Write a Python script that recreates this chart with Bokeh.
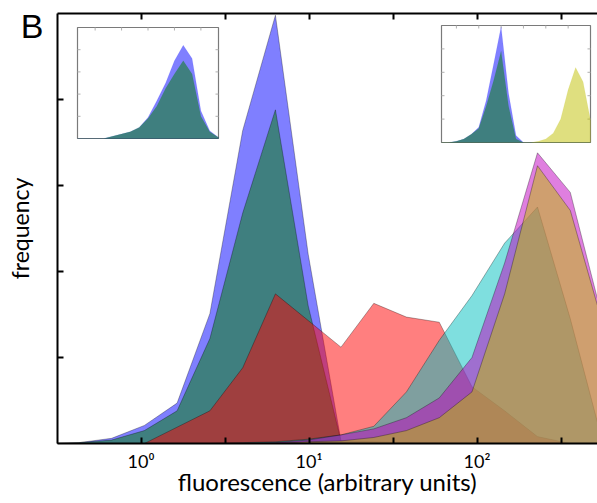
import numpy as np
from bokeh.plotting import figure
from bokeh.models import Range1d, LinearScale, LogAxis, FixedTicker
from bokeh.embed import file_html
from bokeh.resources import INLINE

# ---------------- data: main panel (histogram bin centres, arbitrary units) -------------
fluor = [0.272, 0.427, 0.668, 1.047, 1.64, 2.57, 4.03, 6.31, 9.89, 15.5,
         24.3, 38.0, 59.6, 93.3, 146.0, 229.0, 359.0, 562.0]
blue = [0, 0.01, 0.06, 0.21, 0.47, 1.51, 3.64, 4.98, 2.2, 0.03,
        0.02, 0.01, 0.01, 0, 0, 0, 0, 0]
green = [0, 0.01, 0.04, 0.15, 0.38, 1.22, 2.68, 3.88, 1.6, 0.03,
         0.02, 0.01, 0, 0, 0, 0, 0, 0]
red = [0, 0, 0, 0, 0.19, 0.38, 0.88, 1.74, 1.43, 1.12,
       1.63, 1.47, 1.41, 0.66, 0.38, 0.08, 0, 0]
cyan = [0, 0, 0, 0, 0, 0, 0.01, 0.02, 0.05, 0.1,
        0.2, 0.6, 1.2, 1.72, 2.33, 2.75, 1.45, 0]
magenta = [0, 0, 0, 0, 0, 0, 0, 0.01, 0.04, 0.1,
           0.17, 0.3, 0.53, 1.0, 2.1, 3.38, 2.92, 1.43]
yellow = [0, 0, 0, 0, 0, 0, 0, 0, 0.02, 0.03,
          0.07, 0.15, 0.3, 0.6, 1.74, 3.23, 2.71, 1.38]

# ---------------- data: insets (bin index, normalised frequency) ------------------------
inL_bin = list(range(17))
inL_blue = [0, 0, 0, 0, 0.02, 0.04, 0.06, 0.10, 0.19, 0.34, 0.50, 0.70, 0.84, 0.72, 0.25, 0.07, 0.01]
inL_green = [0, 0, 0, 0, 0.02, 0.04, 0.06, 0.10, 0.18, 0.29, 0.45, 0.58, 0.70, 0.58, 0.20, 0.06, 0.01]

inR_bin = list(range(21))
inR_blue = [0, 0, 0.01, 0.03, 0.07, 0.13, 0.36, 0.67, 0.99, 0.42, 0.06, 0, 0, 0, 0, 0, 0, 0, 0, 0, 0]
inR_green = [0, 0, 0.01, 0.03, 0.07, 0.12, 0.31, 0.53, 0.78, 0.31, 0.03, 0, 0, 0, 0, 0, 0, 0, 0, 0, 0]
inR_yellow = [0, 0, 0, 0, 0, 0, 0, 0, 0, 0, 0, 0, 0, 0.01, 0.03, 0.08, 0.20, 0.45, 0.64, 0.52, 0.19]

decade_ticks = [1, 10, 100]
half_decade_ticks = [10 ** -0.5, 10 ** 0.5, 10 ** 1.5, 10 ** 2.5]
tick_labels = {1: "10\u2070", 10: "10\u00b9", 100: "10\u00b2"}
freq_ticks = [1, 2, 3, 4]
panel_letter = "B"

# ---------------- layout constants (pixels) ----------------------------------------------
W, H = 597, 503
FL, FR, FT, FB = 57, 597, 13, 443
YMAX = 5
INSET_L = (77, 218, 27, 138)   # left, right, top, bottom
INSET_R = (441, 590, 25, 142)
LETTER_CENTER_PX = 26          # vertical centre of the panel letter, from the top

COL = {"b": "#0000ff", "g": "#008000", "r": "#ff0000",
       "c": "#00bfbf", "m": "#bf00bf", "y": "#bfbf00"}
FONT = "Lato"

p = figure(width=W, height=H, x_axis_type="log",
           x_range=Range1d(10 ** -0.497, 10 ** 2.717), y_range=Range1d(0, YMAX),
           output_backend="svg", toolbar_location=None,
           min_border_left=FL, min_border_right=0, min_border_top=FT,
           min_border_bottom=H - FB)
p.outline_line_color = None
p.xgrid.visible = False
p.ygrid.visible = False
p.background_fill_color = "white"
p.border_fill_color = "white"


def closed(xs, ys):
    return [xs[0]] + list(xs) + [xs[-1]], [0] + list(ys) + [0]


for ys, c in [(blue, "b"), (green, "g"), (red, "r"), (cyan, "c"), (magenta, "m"), (yellow, "y")]:
    px, py = closed(fluor, ys)
    p.patch(px, py, fill_color=COL[c], fill_alpha=0.5,
            line_color="black", line_alpha=0.3, line_width=1)


# ---------------- insets through extra ranges --------------------------------------------
def add_inset(name, box, nbins):
    l, r, t, b = box
    sx = (r - l) / (nbins - 1)
    sy = (b - t)
    x0 = -(l - FL) / sx
    y0 = -(FB - b) / sy
    p.extra_x_ranges[name] = Range1d(x0, x0 + (FR - FL) / sx)
    p.extra_y_ranges[name] = Range1d(y0, y0 + (FB - FT) / sy)
    p.extra_x_scales[name] = LinearScale()
    p.extra_y_scales[name] = LinearScale()
    p.quad(left=[0], right=[nbins - 1], bottom=[0], top=[1],
           fill_color="white", line_color="#7a7a7a", line_width=1.2,
           x_range_name=name, y_range_name=name)
    # faint tick marks on the inset frame
    tx = np.arange(2, nbins - 1, 3)
    tl = 3 / sy
    p.segment(x0=tx, y0=np.full(len(tx), 1.0), x1=tx, y1=np.full(len(tx), 1.0 - tl),
              line_color="#b0b0b0", line_width=1, x_range_name=name, y_range_name=name)
    ty = np.arange(0.2, 1.0, 0.2)
    tlx = 3 / sx
    p.segment(x0=np.zeros(len(ty)), y0=ty, x1=np.full(len(ty), tlx), y1=ty,
              line_color="#b0b0b0", line_width=1, x_range_name=name, y_range_name=name)
    p.segment(x0=np.full(len(ty), nbins - 1), y0=ty, x1=np.full(len(ty), nbins - 1 - tlx), y1=ty,
              line_color="#b0b0b0", line_width=1, x_range_name=name, y_range_name=name)


add_inset("inL", INSET_L, len(inL_bin))
add_inset("inR", INSET_R, len(inR_bin))

for name, xs, series in [("inL", inL_bin, [(inL_blue, "b"), (inL_green, "g")]),
                         ("inR", inR_bin, [(inR_blue, "b"), (inR_green, "g"), (inR_yellow, "y")])]:
    for ys, c in series:
        px, py = closed(xs, ys)
        p.patch(px, py, fill_color=COL[c], fill_alpha=0.5, line_color=COL[c],
                line_alpha=0.15, line_width=0.5, x_range_name=name, y_range_name=name)

# ---------------- axes ----------------------------------------------------------------
xa = p.xaxis[0]
xa.ticker = FixedTicker(ticks=decade_ticks, minor_ticks=half_decade_ticks)
xa.major_label_overrides = tick_labels
xa.axis_label = "fluorescence (arbitrary units)"

# left axis: frequency ticks are drawn as (unlabelled) minor ticks; the single major
# tick carries the panel letter in the upper-left margin
letter_y = round(YMAX * (FB - LETTER_CENTER_PX) / (FB - FT), 3)
ya = p.yaxis[0]
ya.ticker = FixedTicker(ticks=[letter_y], minor_ticks=freq_ticks)
ya.axis_label = "frequency"
ya.major_label_overrides = {letter_y: panel_letter}

top = LogAxis(ticker=FixedTicker(ticks=decade_ticks, minor_ticks=half_decade_ticks),
              major_label_overrides={t: "" for t in decade_ticks})
p.add_layout(top, "above")

for ax in [xa, ya, top]:
    ax.axis_line_width = 2
    ax.axis_line_color = "black"
    ax.major_tick_in = 6
    ax.major_tick_out = 0
    ax.minor_tick_in = 6
    ax.minor_tick_out = 0
    ax.major_tick_line_width = 2
    ax.minor_tick_line_width = 2
    ax.major_tick_line_color = "black"
    ax.minor_tick_line_color = "black"
    ax.axis_label_text_font = FONT
    ax.axis_label_text_font_style = "normal"
    ax.axis_label_text_font_size = "24px"
    ax.axis_label_text_color = "black"
    ax.major_label_text_font = FONT
    ax.major_label_text_color = "black"

ya.major_tick_in = 0
ya.major_label_text_font = "Liberation Sans"
ya.major_label_text_font_size = "34px"
ya.major_label_standoff = 14
ya.axis_label_text_font_size = "23px"
ya.axis_label_standoff = -16

xa.major_label_text_font_size = "18px"
xa.major_label_standoff = 6
xa.axis_label_standoff = -8
top.major_label_standoff = 0

open("out.html", "w").write(file_html(p, INLINE))
